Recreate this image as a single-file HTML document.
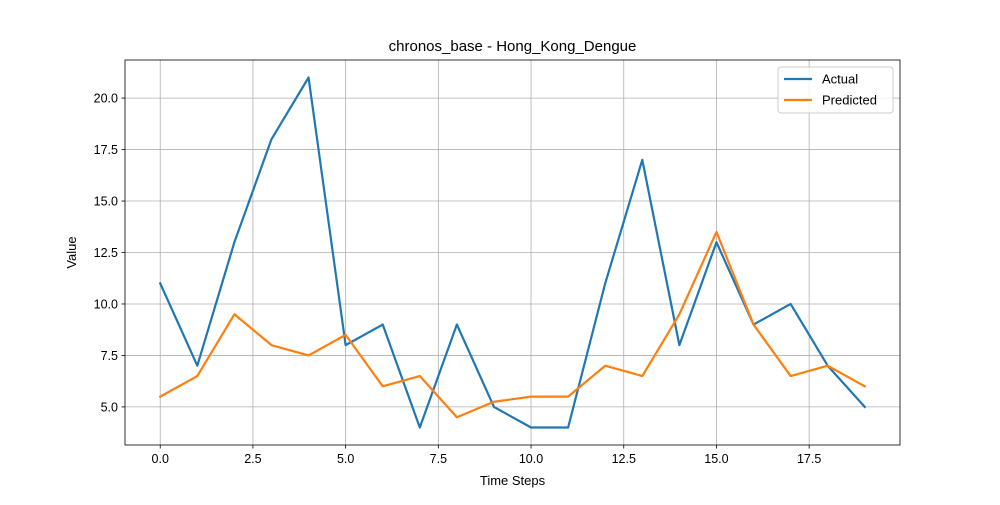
<!DOCTYPE html>
<html><head><meta charset="utf-8"><style>
body{margin:0;background:#fff;font-family:"Liberation Sans","DejaVu Sans",sans-serif;}
</style></head><body>
<svg id="chart" width="1000" height="500" xmlns="http://www.w3.org/2000/svg"></svg>
<script>
const steps=[0,1,2,3,4,5,6,7,8,9,10,11,12,13,14,15,16,17,18,19];
const actual=[11,7,13,18,21,8,9,4,9,5,4,4,11,17,8,13,9,10,7,5];
const predicted=[5.5,6.5,9.5,8,7.5,8.5,6,6.5,4.5,5.25,5.5,5.5,7,6.5,9.5,13.5,9,6.5,7,6];
const xTicks=[0,2.5,5,7.5,10,12.5,15,17.5];
const yTicks=[5,7.5,10,12.5,15,17.5,20];
const L=125,R=900,T=60,B=445;
const x0=-0.95,x1=19.95,y0=3.15,y1=21.85;
const sx=v=>L+(v-x0)/(x1-x0)*(R-L);
const sy=v=>B-(v-y0)/(y1-y0)*(B-T);
const svg=document.getElementById('chart');
const NS='http://www.w3.org/2000/svg';
function mk(t,a,txt){const e=document.createElementNS(NS,t);for(const k in a)e.setAttribute(k,a[k]);if(txt!==undefined)e.textContent=txt;svg.appendChild(e);return e;}
xTicks.forEach(v=>{
 const g=mk('line',{x1:sx(v),x2:sx(v),y1:T,y2:B,stroke:'#b0b0b0','stroke-width':0.8});
 
 
 mk('line',{x1:sx(v),x2:sx(v),y1:B,y2:B+3.5,stroke:'#000','stroke-width':0.8});
 const t=mk('text',{x:sx(v),y:B+18,'text-anchor':'middle','font-size':12.5},v.toFixed(1));
 
 
});
yTicks.forEach(v=>{
 const g=mk('line',{x1:L,x2:R,y1:sy(v),y2:sy(v),stroke:'#b0b0b0','stroke-width':0.8});
 
 
 mk('line',{x1:L-3.5,x2:L,y1:sy(v),y2:sy(v),stroke:'#000','stroke-width':0.8});
 const t=mk('text',{x:L-7,y:sy(v)+4.5,'text-anchor':'end','font-size':12.5},v.toFixed(1));
 
 
});
function line(vals,color,name){
 const p=mk('polyline',{points:steps.map((s,i)=>sx(s)+','+sy(vals[i])).join(' '),fill:'none',stroke:color,'stroke-width':2.2,'stroke-linejoin':'round','stroke-linecap':'square'});
 
 
}
line(actual,'#1f77b4','actual-line');
line(predicted,'#ff7f0e','predicted-line');
const fr=mk('rect',{x:L,y:T,width:R-L,height:B-T,fill:'none',stroke:'#000','stroke-width':0.8});


const ti=mk('text',{x:(L+R)/2,y:T-9,'text-anchor':'middle','font-size':15},'chronos_base - Hong_Kong_Dengue');


const xt=mk('text',{x:(L+R)/2,y:485,'text-anchor':'middle','font-size':13},'Time Steps');


const yt=mk('text',{x:76,y:(T+B)/2,'text-anchor':'middle','font-size':13,transform:'rotate(-90 76 '+((T+B)/2)+')'},'Value');


const lg=mk('rect',{x:778,y:67,width:115,height:46,rx:3,fill:'#fff','fill-opacity':0.8,stroke:'#ccc','stroke-width':1});


[['Actual','#1f77b4',79],['Predicted','#ff7f0e',100]].forEach(([n,c,y])=>{
 mk('line',{x1:784,x2:812,y1:y,y2:y,stroke:c,'stroke-width':2.2});
 const t=mk('text',{x:822,y:y+4.5,'font-size':13},n);
 
 
});
</script>
</body></html>
